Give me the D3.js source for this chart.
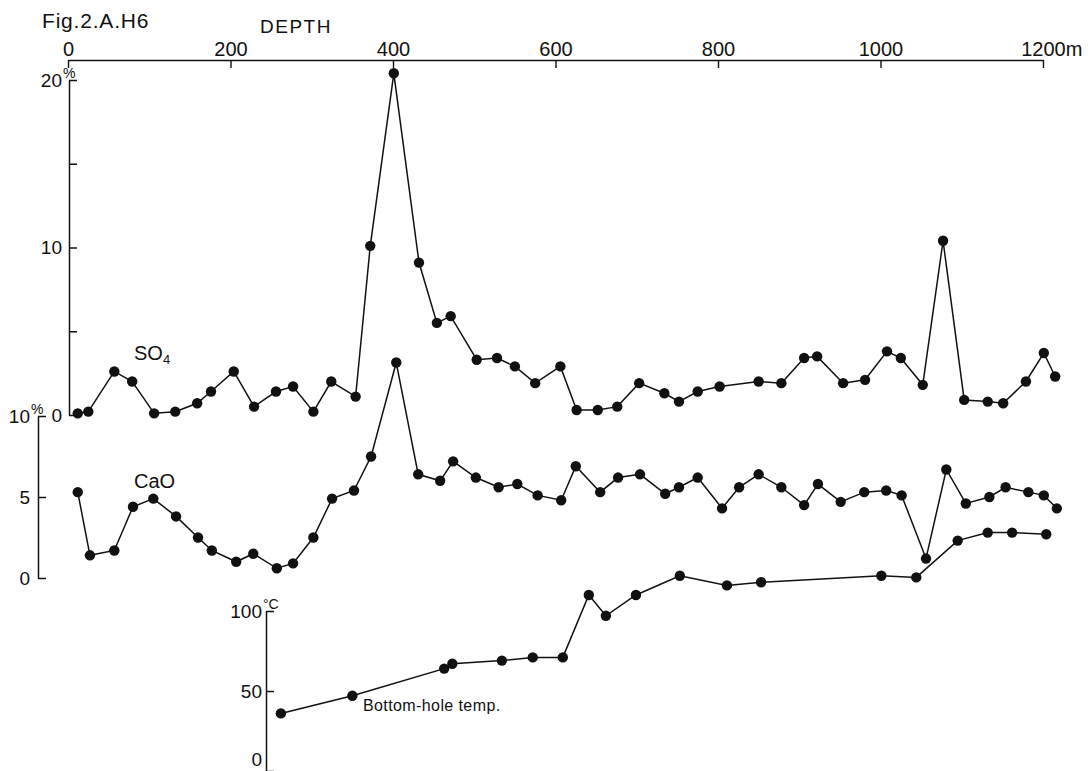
<!DOCTYPE html>
<html>
<head>
<meta charset="utf-8">
<script src="https://cdn.jsdelivr.net/npm/d3@7"></script>
<style>
  body { margin: 0; background: #fff; }
  text { font-family: "Liberation Sans", Arial, sans-serif; fill: #111; }
</style>
</head>
<body>
<svg width="1088" height="771"></svg>
<script>
const width = 1088, height = 771;

// depth (m) and SO4 (%)
const so4Depth = [12, 25, 57, 79, 106, 132, 159, 176, 204, 229, 256, 277, 302, 324, 354, 372, 401, 432, 454, 471,
  503, 528, 550, 575, 606, 626, 652, 676, 703, 734, 752, 775, 802, 850, 878, 906, 922, 954, 981, 1008,
  1025, 1052, 1077, 1103, 1132, 1151, 1179, 1201, 1215];
const so4Value = [0.1, 0.2, 2.6, 2.0, 0.1, 0.2, 0.7, 1.4, 2.6, 0.5, 1.4, 1.7, 0.2, 2.0, 1.1, 10.1, 20.4, 9.1, 5.5, 5.9,
  3.3, 3.4, 2.9, 1.9, 2.9, 0.3, 0.3, 0.5, 1.9, 1.3, 0.8, 1.4, 1.7, 2.0, 1.9, 3.4, 3.5, 1.9, 2.1, 3.8,
  3.4, 1.8, 10.4, 0.9, 0.8, 0.7, 2.0, 3.7, 2.3];

// depth (m) and CaO (%)
const caoDepth = [12, 27, 57, 80, 105, 133, 160, 177, 207, 228, 257, 277, 302, 325, 352, 373, 404, 431, 458, 474,
  502, 530, 553, 578, 607, 625, 655, 677, 704, 735, 752, 775, 805, 826, 850, 878, 906, 923, 951, 980,
  1007, 1026, 1056, 1081, 1105, 1134, 1154, 1182, 1201, 1217];
const caoValue = [5.3, 1.4, 1.7, 4.4, 4.9, 3.8, 2.5, 1.7, 1.0, 1.5, 0.6, 0.9, 2.5, 4.9, 5.4, 7.5, 13.3, 6.4, 6.0, 7.2,
  6.2, 5.6, 5.8, 5.1, 4.8, 6.9, 5.3, 6.2, 6.4, 5.2, 5.6, 6.2, 4.3, 5.6, 6.4, 5.6, 4.5, 5.8, 4.7, 5.3,
  5.4, 5.1, 1.2, 6.7, 4.6, 5.0, 5.6, 5.3, 5.1, 4.3];

// depth (m) and bottom-hole temperature (°C)
const tempDepth = [262, 350, 463, 473, 534, 572, 609, 641, 662, 699, 753, 811, 853, 1001, 1044, 1095, 1132, 1162, 1204];
const tempValue = [36, 47, 64, 67, 69, 71, 71, 110, 97, 110, 122, 116, 118, 122, 121, 144, 149, 149, 148];

const depthTicks = [0, 200, 400, 600, 800, 1000, 1200];
const so4Ticks = [0, 5, 10, 15, 20];
const so4Labelled = [0, 10, 20];
const caoTicks = [0, 5, 10];
const tempTicks = [0, 50, 100];

const svg = d3.select("svg");

const x = d3.scaleLinear().domain([0, 1200]).range([68, 1043]);
const ySO4 = d3.scaleLinear().domain([0, 20]).range([415, 80]);
const yCaO = d3.scaleLinear().domain([0, 10]).range([578, 416]);
const yTemp = d3.scaleLinear().domain([0, 100]).range([771, 611]);

// depth axis on top, ticks pointing down
const topAxis = svg.append("g")
  .attr("transform", "translate(0,60)")
  .call(d3.axisTop(x).tickValues(depthTicks).tickSizeInner(-8).tickSizeOuter(0).tickPadding(4).tickFormat(d3.format("d")));
topAxis.selectAll("path, line").attr("stroke", "#111").attr("stroke-width", 1.4);
topAxis.selectAll("text").attr("font-size", 20).attr("font-family", "Liberation Sans, Arial, sans-serif").attr("fill", "#111");
topAxis.selectAll(".tick text").filter(d => d === 1200).each(function() {
  const w = this.getComputedTextLength();
  d3.select(this).attr("text-anchor", "start").attr("x", -w / 2).append("tspan").text("m");
});

function leftAxis(scale, ticks, labelled, xPos, pad, unit) {
  const g = svg.append("g")
    .attr("transform", "translate(" + xPos + ",0)")
    .call(d3.axisLeft(scale).tickValues(ticks).tickSizeInner(-8).tickSizeOuter(0).tickPadding(pad)
      .tickFormat(d => labelled.includes(d) ? d : ""));
  g.selectAll("path, line").attr("stroke", "#111").attr("stroke-width", 1.5);
  g.selectAll("text").attr("font-size", 19).attr("font-family", "Liberation Sans, Arial, sans-serif").attr("fill", "#111");
  const top = d3.max(ticks);
  g.selectAll(".tick").filter(d => d === top).append("text")
    .attr("x", -pad + 1)
    .attr("y", -3)
    .attr("font-size", 14)
    .attr("text-anchor", "start")
    .attr("fill", "#111")
    .text(unit);
  return g;
}

leftAxis(ySO4, so4Ticks, so4Labelled, 69, 7, "%");
leftAxis(yCaO, caoTicks, caoTicks, 38, 8, "%");
const tempAxis = leftAxis(yTemp, tempTicks, tempTicks, 266, 4, "°C");
// keep the 0 label inside the picture
tempAxis.selectAll(".tick text").filter(d => d === 0).attr("y", -12);

// series
const line = d3.line();
function series(depths, values, yScale) {
  const pts = d3.zip(depths, values).map(d => [x(d[0]), yScale(d[1])]);
  svg.append("path")
    .attr("d", line(pts))
    .attr("fill", "none")
    .attr("stroke", "#111")
    .attr("stroke-width", 1.5);
  svg.append("g").selectAll("circle")
    .data(pts)
    .enter().append("circle")
    .attr("cx", d => d[0])
    .attr("cy", d => d[1])
    .attr("r", 5.2)
    .attr("fill", "#111");
}
series(so4Depth, so4Value, ySO4);
series(caoDepth, caoValue, yCaO);
series(tempDepth, tempValue, yTemp);

// titles and labels
svg.append("text").attr("x", 42).attr("y", 28).attr("font-size", 21).attr("letter-spacing", 0.8).text("Fig.2.A.H6");
svg.append("text").attr("x", 260).attr("y", 33).attr("font-size", 19).attr("letter-spacing", 1.5).text("DEPTH");

const so4Label = svg.append("text").attr("x", 134).attr("y", 360).attr("font-size", 20);
so4Label.append("tspan").text("SO");
so4Label.append("tspan").attr("font-size", 13).attr("dy", 4).text("4");

svg.append("text").attr("x", 134).attr("y", 488).attr("font-size", 20).text("CaO");
svg.append("text").attr("x", 363).attr("y", 711).attr("font-size", 16).attr("letter-spacing", 0.4).text("Bottom-hole temp.");
</script>
</body>
</html>
